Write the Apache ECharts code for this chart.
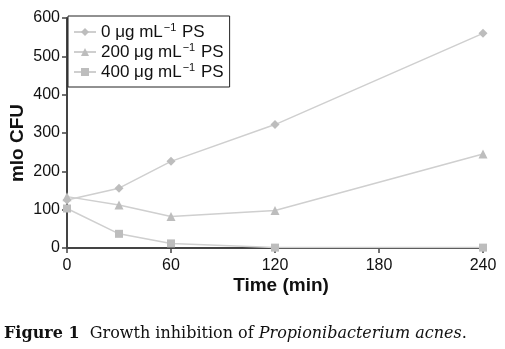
<!DOCTYPE html>
<html><head><meta charset="utf-8">
<script src="https://cdn.jsdelivr.net/npm/echarts@6/dist/echarts.min.js"></script>
<style>html,body{margin:0;padding:0;background:#fff}#c{width:505px;height:349px}</style>
</head><body><div id="c"></div>
<script>
const times = [0, 30, 60, 120, 240];
const seriesNames = ['0 \u03bcg mL', '200 \u03bcg mL', '400 \u03bcg mL'];
const ps0 = [125, 156, 226, 322, 560];
const ps200 = [134, 112, 82, 98, 245];
const ps400 = [103, 37, 12, 1, 1];
const xTicks = [0, 60, 120, 180, 240];
const yTicks = [0, 100, 200, 300, 400, 500, 600];

const symbols = ['diamond', 'triangle', 'rect'];
const values = [ps0, ps200, ps400];
const chart = echarts.init(document.getElementById('c'));
const font = 'Liberation Sans, Arial, sans-serif';
chart.setOption({
  animation: false,
  backgroundColor: '#fff',
  textStyle: {fontFamily: font},
  title: {
    left: 4, top: 326, padding: 0,
    text: '{b|Figure 1}  Growth inhibition of {i|Propionibacterium acnes}.',
    textStyle: {
      fontFamily: 'DejaVu Serif, serif', fontSize: 16, fontWeight: 'normal', color: '#111',
      rich: {
        b: {fontFamily: 'DejaVu Serif, serif', fontSize: 16, fontWeight: 'bold', color: '#111'},
        i: {fontFamily: 'DejaVu Serif, serif', fontSize: 16, fontStyle: 'italic', color: '#111'}
      }
    }
  },
  legend: {
    left: 68, top: 16, orient: 'vertical',
    data: seriesNames,
    backgroundColor: '#fff', borderColor: '#222', borderWidth: 1,
    padding: [6, 6, 5, 5], itemGap: 0, itemWidth: 22, itemHeight: 10,
    formatter: n => '{a|' + n + '}{s|\u22121}{a| PS}',
    textStyle: {
      fontFamily: font, fontSize: 17, color: '#111', lineHeight: 20,
      rich: {
        a: {fontFamily: font, fontSize: 17, color: '#111', lineHeight: 20},
        s: {fontFamily: font, fontSize: 11, color: '#111', lineHeight: 20, padding: [0, 1, 9, 1]}
      }
    }
  },
  grid: {left: 67, right: 22, top: 18, bottom: 101, containLabel: false, outerBoundsMode: 'none'},
  xAxis: {
    type: 'value', min: 0, max: 240, interval: 60,
    name: 'Time (min)', nameLocation: 'middle', nameGap: 28, nameMoveOverlap: false,
    nameTextStyle: {fontFamily: font, fontSize: 19, fontWeight: 'bold', color: '#111', padding: [0, 0, 0, 12]},
    axisLine: {lineStyle: {color: '#444', width: 2}},
    axisTick: {show: true, length: 5, lineStyle: {color: '#444', width: 1.5}},
    axisLabel: {fontSize: 16, color: '#111', margin: 10,
      formatter: v => xTicks.includes(v) ? String(v) : ''},
    splitLine: {show: false}
  },
  yAxis: {
    type: 'value', min: 0, max: 600, interval: 100,
    name: 'mlo CFU', nameLocation: 'middle', nameGap: 40, nameMoveOverlap: false,
    nameTextStyle: {fontFamily: font, fontSize: 19, fontWeight: 'bold', color: '#111', padding: [0, 20, 0, 0]},
    axisLine: {show: true, lineStyle: {color: '#444', width: 2}},
    axisTick: {show: true, length: 5, lineStyle: {color: '#444', width: 1.5}},
    axisLabel: {fontSize: 16, color: '#111', margin: 7,
      formatter: v => yTicks.includes(v) ? String(v) : ''},
    splitLine: {show: false}
  },
  series: values.map((vals, i) => ({
    name: seriesNames[i], type: 'line',
    data: times.map((t, j) => [t, vals[j]]),
    symbol: symbols[i], symbolSize: i === 2 ? 8 : 9,
    showAllSymbol: true,
    lineStyle: {color: '#cfcfcf', width: 1.5},
    itemStyle: {color: '#bdbdbd', borderWidth: 0}
  }))
});
</script></body></html>
